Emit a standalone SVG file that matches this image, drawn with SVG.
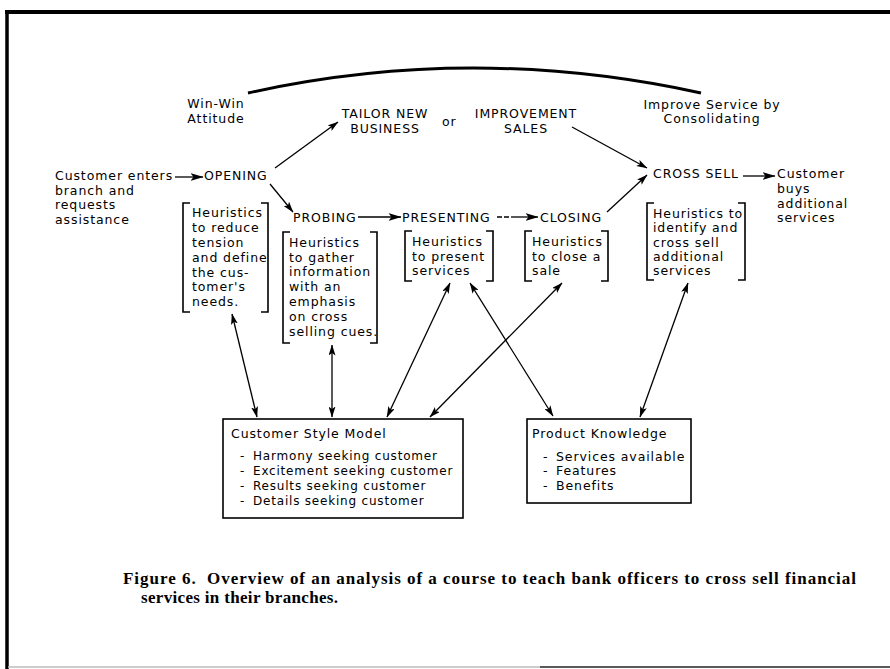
<svg xmlns="http://www.w3.org/2000/svg" width="890" height="669" viewBox="0 0 890 669">
<style>
text{font-family:"DejaVu Sans","Liberation Sans",sans-serif;font-size:12.5px;letter-spacing:0.9px;fill:#000}
.m{text-anchor:middle}
.sm{font-size:12px;letter-spacing:0.8px}
.cap{font-family:"Liberation Serif","DejaVu Serif",serif;font-size:17px;font-weight:bold;letter-spacing:0}
.br{fill:none;stroke:#000;stroke-width:1.6}
.bx{fill:#fff;stroke:#000;stroke-width:1.6}
.c{fill:none;stroke:#000;stroke-width:1.3}
</style>
<defs>
<marker id="ah" viewBox="0 0 11 7" refX="10.5" refY="3.5" markerWidth="11" markerHeight="7" markerUnits="userSpaceOnUse" orient="auto-start-reverse"><path d="M0,0 L11,3.5 L0,7 L2.5,3.5 z" fill="#000"/></marker>
<marker id="fl" viewBox="0 0 13 8" refX="12.5" refY="4" markerWidth="13" markerHeight="8" markerUnits="userSpaceOnUse" orient="auto"><path d="M0,0 L13,4 L0,8 L3,4 z" fill="#000"/></marker>
</defs>
<rect width="890" height="669" fill="#fff"/>
<g id="frame">
<line x1="5" y1="12" x2="890" y2="12" stroke="#000" stroke-width="4"/>
<line x1="7" y1="10" x2="7" y2="669" stroke="#000" stroke-width="3.5"/>
<line x1="8" y1="667" x2="890" y2="667" stroke="#bbb" stroke-width="1.5"/>
<line x1="540" y1="667" x2="890" y2="667" stroke="#333" stroke-width="1.5"/>
</g>
<g id="connectors">
<path d="M248,93 Q472,43 701,93" fill="none" stroke="#000" stroke-width="3"/>
<line class="c" x1="175" y1="177" x2="203" y2="177" marker-end="url(#fl)"/>
<line class="c" x1="275" y1="168" x2="338" y2="122" marker-end="url(#ah)"/>
<line class="c" x1="270" y1="184" x2="293" y2="212" marker-end="url(#ah)"/>
<line class="c" x1="358" y1="217" x2="401" y2="217" marker-end="url(#fl)"/>
<path class="c" d="M497,217 h5 M504,217 h5"/>
<line class="c" x1="511" y1="217" x2="538" y2="217" marker-end="url(#fl)"/>
<line class="c" x1="607" y1="212" x2="647" y2="175" marker-end="url(#ah)"/>
<line class="c" x1="572" y1="127" x2="647" y2="168" marker-end="url(#ah)"/>
<line class="c" x1="743" y1="176" x2="775" y2="176" marker-end="url(#fl)"/>
<line class="c" x1="232" y1="314" x2="257" y2="417" marker-start="url(#ah)" marker-end="url(#ah)"/>
<line class="c" x1="332" y1="345" x2="332" y2="417" marker-start="url(#ah)" marker-end="url(#ah)"/>
<line class="c" x1="450" y1="283" x2="387" y2="417" marker-start="url(#ah)" marker-end="url(#ah)"/>
<line class="c" x1="470" y1="283" x2="553" y2="416" marker-start="url(#ah)" marker-end="url(#ah)"/>
<line class="c" x1="562" y1="283" x2="430" y2="417" marker-start="url(#ah)" marker-end="url(#ah)"/>
<line class="c" x1="688" y1="283" x2="640" y2="417" marker-start="url(#ah)" marker-end="url(#ah)"/>
</g>
<g id="winwin"><text class="m" x="216" y="108">Win-Win</text><text class="m" x="216" y="123">Attitude</text></g>
<g id="tailor"><text class="m" x="385" y="118">TAILOR NEW</text><text class="m" x="385" y="133">BUSINESS</text></g>
<g id="or"><text x="442" y="126">or</text></g>
<g id="improvement"><text class="m" x="526" y="118">IMPROVEMENT</text><text class="m" x="526" y="133">SALES</text></g>
<g id="improve-service"><text class="m" x="712" y="109">Improve Service by</text><text class="m" x="712" y="123">Consolidating</text></g>
<g id="customer-enters"><text x="55" y="180">Customer enters</text><text x="55" y="195">branch and</text><text x="55" y="209">requests</text><text x="55" y="224">assistance</text></g>
<g id="opening"><text x="204" y="180">OPENING</text></g>
<g id="probing"><text x="293" y="222">PROBING</text></g>
<g id="presenting"><text x="402" y="222">PRESENTING</text></g>
<g id="closing"><text x="540" y="222">CLOSING</text></g>
<g id="cross-sell"><text x="653" y="178">CROSS SELL</text></g>
<g id="customer-buys"><text x="777" y="178">Customer</text><text x="777" y="193">buys</text><text x="777" y="208">additional</text><text x="777" y="222">services</text></g>
<g id="h-opening">
<path class="br" d="M190,203 H183 V312 H190 M261,203 H268 V312 H261"/>
<text x="192" y="217">Heuristics</text><text x="192" y="232">to reduce</text><text x="192" y="247">tension</text><text x="192" y="262">and define</text><text x="192" y="277">the cus-</text><text x="192" y="291">tomer's</text><text x="192" y="306">needs.</text>
</g>
<g id="h-probing">
<path class="br" d="M290,232 H283 V343 H290 M370,232 H377 V343 H370"/>
<text x="289" y="247">Heuristics</text><text x="289" y="262">to gather</text><text x="289" y="276">information</text><text x="289" y="291">with an</text><text x="289" y="306">emphasis</text><text x="289" y="321">on cross</text><text x="289" y="336">selling cues.</text>
</g>
<g id="h-presenting">
<path class="br" d="M412,231 H405 V281 H412 M486,231 H493 V281 H486"/>
<text x="412" y="246">Heuristics</text><text x="412" y="261">to present</text><text x="412" y="275">services</text>
</g>
<g id="h-closing">
<path class="br" d="M532,231 H525 V281 H532 M601,231 H608 V281 H601"/>
<text x="532" y="246">Heuristics</text><text x="532" y="261">to close a</text><text x="532" y="275">sale</text>
</g>
<g id="h-cross-sell">
<path class="br" d="M654,203 H647 V280 H654 M738,203 H745 V280 H738"/>
<text x="653" y="218">Heuristics to</text><text x="653" y="232">identify and</text><text x="653" y="247">cross sell</text><text x="653" y="261">additional</text><text x="653" y="275">services</text>
</g>
<g id="customer-style-model">
<rect class="bx" x="223" y="419" width="240" height="99"/>
<text x="231" y="438">Customer Style Model</text>
<text class="sm" x="240" y="460">-</text><text class="sm" x="253" y="460">Harmony seeking customer</text>
<text class="sm" x="240" y="475">-</text><text class="sm" x="253" y="475">Excitement seeking customer</text>
<text class="sm" x="240" y="490">-</text><text class="sm" x="253" y="490">Results seeking customer</text>
<text class="sm" x="240" y="505">-</text><text class="sm" x="253" y="505">Details seeking customer</text>
</g>
<g id="product-knowledge">
<rect class="bx" x="527" y="419" width="164" height="84"/>
<text x="532" y="438">Product Knowledge</text>
<text x="543" y="461">-</text><text x="556" y="461">Services available</text>
<text x="543" y="475">-</text><text x="556" y="475">Features</text>
<text x="543" y="490">-</text><text x="556" y="490">Benefits</text>
</g>
<g id="caption">
<text class="cap" x="123" y="584" textLength="733" lengthAdjust="spacing" xml:space="preserve">Figure 6.  Overview of an analysis of a course to teach bank officers to cross sell financial</text>
<text class="cap" x="141" y="603" textLength="197" lengthAdjust="spacing">services in their branches.</text>
</g>
</svg>
